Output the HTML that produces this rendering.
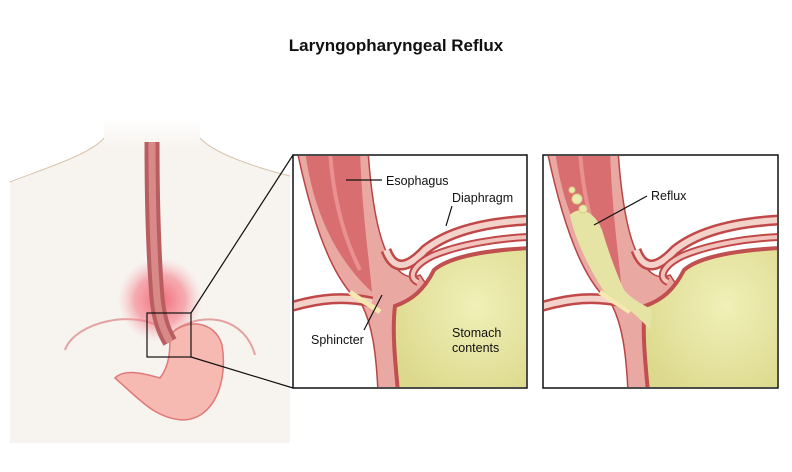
<!DOCTYPE html>
<html><head><meta charset="utf-8"><style>
html,body{margin:0;padding:0;background:#fff;}
svg{display:block;}
text{font-family:"Liberation Sans",Arial,sans-serif;}
</style></head><body>
<svg width="792" height="472" viewBox="0 0 792 472" xmlns="http://www.w3.org/2000/svg">
<defs>
<radialGradient id="glow" cx="0.5" cy="0.5" r="0.5">
<stop offset="0" stop-color="#f25c6c" stop-opacity="0.9"/>
<stop offset="0.6" stop-color="#f47a86" stop-opacity="0.6"/>
<stop offset="1" stop-color="#f8b0b8" stop-opacity="0"/>
</radialGradient>
<radialGradient id="yel" cx="0.6" cy="0.4" r="0.7">
<stop offset="0" stop-color="#f0f0b8"/>
<stop offset="1" stop-color="#dcd98c"/>
</radialGradient>
<linearGradient id="neck" x1="0" y1="0" x2="0" y2="1">
<stop offset="0" stop-color="#fff"/>
<stop offset="1" stop-color="#f7f3ef"/>
</linearGradient>
<clipPath id="c1"><rect x="294" y="156" width="232" height="231"/></clipPath>
<clipPath id="c2"><rect x="544" y="156" width="233" height="231"/></clipPath>
<g id="scene">
<path d="M297,150 L368,150 C372,210 380,245 392,262 C400,275 410,280 420,275 L430,290 C420,300 405,300 398,305 C395,330 400,360 402,392 L378,392 C376,350 372,325 362,305 C345,290 320,260 297,150 Z" fill="#eaa8a2" stroke="#b84444" stroke-width="1.5"/>
<path d="M305,150 L360,150 C362,210 368,250 372,292 C350,272 315,230 305,150 Z" fill="#d96e70"/>
<path d="M318,150 L330,150 C333,200 345,240 360,270" fill="none" stroke="#e99090" stroke-width="4"/>
<path d="M398,392 C395,360 392,330 395,306 C412,300 424,290 434,270 C450,256 490,250 530,248 L530,392 Z" fill="url(#yel)" stroke="#c05050" stroke-width="4"/>
<path d="M386,250 C394,272 408,268 425,250 C450,230 490,222 530,220" fill="none" stroke="#c04848" stroke-width="11"/>
<path d="M386,250 C394,272 408,268 425,250 C450,230 490,222 530,220" fill="none" stroke="#f3d2ca" stroke-width="6"/>
<path d="M418,282 C408,278 412,266 432,256 C460,244 500,238 530,237" fill="none" stroke="#c04848" stroke-width="8"/>
<path d="M418,282 C408,278 412,266 432,256 C460,244 500,238 530,237" fill="none" stroke="#f0c4bc" stroke-width="4"/>
<path d="M290,307 C320,298 345,296 372,302" fill="none" stroke="#c04848" stroke-width="11"/>
<path d="M290,307 C320,298 345,296 372,302" fill="none" stroke="#f3d2ca" stroke-width="6"/>
<path d="M350,292 C360,300 372,306 380,312" fill="none" stroke="#f5e8b0" stroke-width="5"/>
</g>
</defs>

<text x="396" y="51" text-anchor="middle" font-size="17" font-weight="bold" fill="#111">Laryngopharyngeal Reflux</text>

<path d="M10,443 L10,182 C40,170 90,155 104,138 L104,120 L200,120 L200,138 C215,155 265,170 290,176 L290,443 Z" fill="#f7f3ef"/>
<rect x="104" y="118" width="96" height="30" fill="url(#neck)"/>
<path d="M10,182 C40,170 90,155 104,138 M200,138 C215,155 265,170 290,176" fill="none" stroke="#d8c4ae" stroke-width="1"/>
<path d="M65,350 C75,322 135,308 165,330" fill="none" stroke="#e3a2a2" stroke-width="2"/>
<path d="M175,330 C205,310 245,318 255,355" fill="none" stroke="#e3a2a2" stroke-width="2"/>
<circle cx="160" cy="300" r="42" fill="url(#glow)"/>
<path d="M170,335 C185,318 215,320 222,345 C228,380 215,420 182,420 C155,418 140,400 115,378 C125,368 145,374 160,378 C170,365 170,350 170,335 Z" fill="#f6bab2" stroke="#e07a78" stroke-width="1.5"/>
<path d="M152,142 C152,200 154,260 157,298 C159,318 163,330 170,342" fill="none" stroke="#b85e60" stroke-width="15"/>
<path d="M152,142 C152,200 154,260 157,298 C159,318 163,330 170,342" fill="none" stroke="#d98a88" stroke-width="7"/>
<rect x="147" y="313" width="44" height="44" fill="none" stroke="#111" stroke-width="1.2"/>
<line x1="191" y1="313" x2="293" y2="155" stroke="#111" stroke-width="1.2"/>
<line x1="191" y1="357" x2="293" y2="388" stroke="#111" stroke-width="1.2"/>

<rect x="293" y="155" width="234" height="233" fill="#fff"/>
<g clip-path="url(#c1)"><use href="#scene"/></g>
<rect x="293" y="155" width="234" height="233" fill="none" stroke="#111" stroke-width="1.5"/>
<line x1="346" y1="180" x2="382" y2="180" stroke="#111" stroke-width="1.2"/>
<text x="386" y="185" font-size="12.5" fill="#111">Esophagus</text>
<text x="452" y="202" font-size="12.5" fill="#111">Diaphragm</text>
<line x1="452" y1="206" x2="446" y2="226" stroke="#111" stroke-width="1.2"/>
<text x="311" y="344" font-size="12.5" fill="#111">Sphincter</text>
<line x1="364" y1="330" x2="382" y2="295" stroke="#111" stroke-width="1.2"/>
<text x="452" y="337" font-size="12.5" fill="#111">Stomach</text>
<text x="452" y="352" font-size="12.5" fill="#111">contents</text>

<rect x="543" y="155" width="235" height="233" fill="#fff"/>
<g clip-path="url(#c2)"><g transform="translate(250,0)"><use href="#scene"/>
<path d="M320,215 C330,205 345,212 352,230 C358,250 365,270 374,290 C382,300 395,305 402,310 L400,330 C385,312 368,302 355,293 C340,270 325,240 320,215 Z" fill="#e6e4a4"/>
<circle cx="327" cy="199" r="5" fill="#eceab0" stroke="#d8d080"/>
<circle cx="322" cy="190" r="3" fill="#eceab0" stroke="#d8d080"/>
<circle cx="333" cy="209" r="4" fill="#eceab0" stroke="#d8d080"/>
</g></g>
<rect x="543" y="155" width="235" height="233" fill="none" stroke="#111" stroke-width="1.5"/>
<text x="651" y="200" font-size="12.5" fill="#111">Reflux</text>
<line x1="647" y1="196" x2="594" y2="225" stroke="#111" stroke-width="1.2"/>
</svg>
</body></html>
